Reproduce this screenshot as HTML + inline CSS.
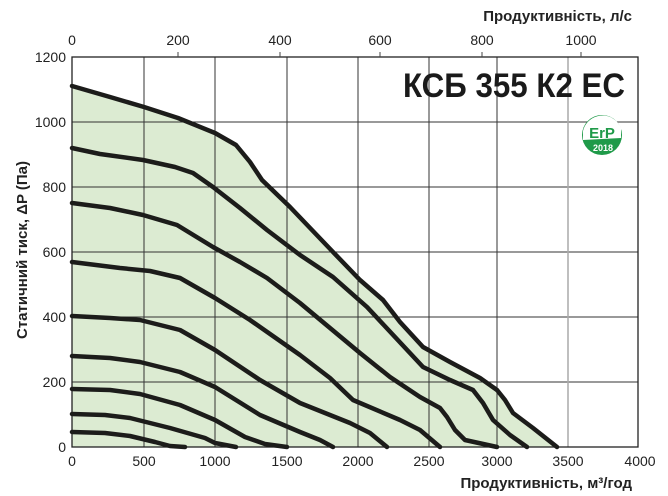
<!DOCTYPE html>
<html><head><meta charset="utf-8"><style>
html,body{margin:0;padding:0;background:#fff;}
svg{display:block;font-family:"Liberation Sans",sans-serif;}
</style></head><body>
<svg width="668" height="496" viewBox="0 0 668 496" xmlns="http://www.w3.org/2000/svg">
<rect width="668" height="496" fill="#fff"/>
<!-- fill -->
<polygon fill="#dcebd2" points="72,86 110,97 144,107 178,118 215,133 236,145 250,162 262,180 290,207 333,252 360,280 383,300 400,322 423,347 450,362 480,378 497,390 505,400 513,413 533,428 557,447 72,447"/>
<!-- grid -->
<g stroke="#333" stroke-width="1">
<line x1="72" y1="122" x2="638" y2="122"/><line x1="72" y1="187" x2="638" y2="187"/>
<line x1="72" y1="252" x2="638" y2="252"/><line x1="72" y1="317" x2="638" y2="317"/>
<line x1="72" y1="382" x2="638" y2="382"/>
<line x1="144" y1="57" x2="144" y2="447"/><line x1="215" y1="57" x2="215" y2="447"/>
<line x1="287" y1="57" x2="287" y2="447"/><line x1="358" y1="57" x2="358" y2="447"/>
<line x1="429" y1="57" x2="429" y2="447"/><line x1="497" y1="57" x2="497" y2="447"/>
</g>
<line x1="568" y1="57" x2="568" y2="447" stroke="#aaa" stroke-width="1.5"/>
<rect x="72" y="57" width="566" height="390" fill="none" stroke="#222" stroke-width="1.3"/>
<!-- top ticks -->
<g stroke="#444" stroke-width="1">
<line x1="178" y1="52" x2="178" y2="57"/><line x1="280" y1="52" x2="280" y2="57"/>
<line x1="380" y1="52" x2="380" y2="57"/><line x1="482" y1="52" x2="482" y2="57"/>
<line x1="581" y1="52" x2="581" y2="57"/>
</g>
<!-- curves -->
<g fill="none" stroke="#1c1c1a" stroke-width="4.5" stroke-linejoin="round" stroke-linecap="round">
<polyline points="72,86 110,97 144,107 178,118 215,133 236,145 250,162 262,180 290,207 333,252 360,280 383,300 400,322 423,347 450,362 480,378 497,390 505,400 513,413 533,428 557,447"/>
<polyline points="72,148 100,154 143,160 175,167 193,173 213,187 240,208 267,230 300,255 333,277 367,307 395,337 423,367 450,380 473,390 483,403 493,420 510,435 527,447"/>
<polyline points="72,203 110,208 143,215 177,225 213,247 240,262 267,278 300,303 330,328 360,353 390,377 420,397 440,408 447,417 455,430 465,440 497,447"/>
<polyline points="72,262 120,268 150,271 180,278 215,298 250,320 300,355 330,378 353,400 400,420 420,430 440,447"/>
<polyline points="72,316 110,318 140,320 180,330 215,350 260,380 300,403 350,423 370,433 387,447"/>
<polyline points="72,356 110,358 140,362 180,372 215,387 260,415 300,432 320,440 333,447"/>
<polyline points="72,389 110,390 140,394 180,405 215,420 245,437 265,444 287,447"/>
<polyline points="72,414 105,415 130,418 170,428 205,438 215,443 236,447"/>
<polyline points="72,432 105,433 130,436 155,442 170,446 185,447"/>
</g>
<!-- tick labels -->
<g font-size="14" fill="#222" text-anchor="end">
<text x="66" y="62">1200</text><text x="66" y="127">1000</text><text x="66" y="192">800</text>
<text x="66" y="257">600</text><text x="66" y="322">400</text><text x="66" y="387">200</text>
<text x="66" y="452">0</text>
</g>
<g font-size="14" fill="#222" text-anchor="middle">
<text x="72" y="466">0</text><text x="144" y="466">500</text><text x="215" y="466">1000</text>
<text x="287" y="466">1500</text><text x="358" y="466">2000</text><text x="429" y="466">2500</text>
<text x="497" y="466">3000</text><text x="568" y="466">3500</text><text x="640" y="466">4000</text>
<text x="72" y="45">0</text><text x="178" y="45">200</text><text x="280" y="45">400</text>
<text x="380" y="45">600</text><text x="482" y="45">800</text><text x="581" y="45">1000</text>
</g>
<text x="632" y="488" font-size="15" font-weight="bold" fill="#222" text-anchor="end">Продуктивність, м³/год</text>
<text x="632" y="21" font-size="15" font-weight="bold" fill="#222" text-anchor="end">Продуктивність, л/с</text>
<text transform="translate(27,250) rotate(-90)" font-size="15" font-weight="bold" fill="#222" text-anchor="middle">Статичний тиск, ΔP (Па)</text>
<text x="625" y="97" font-size="34" font-weight="bold" fill="#1a1a1a" text-anchor="end" textLength="222" lengthAdjust="spacingAndGlyphs">КСБ 355 К2 ЕС</text>
<!-- ErP badge -->
<circle cx="602" cy="135" r="20" fill="#1f9a49"/>
<path d="M583,131 A20,20 0 0 1 621,128 L621,138 L583,140 Z" fill="#fff"/>
<text x="602" y="138" font-size="15" font-weight="bold" fill="#1f9a49" text-anchor="middle">ErP</text>
<text x="603" y="151" font-size="9" font-weight="bold" fill="#fff" text-anchor="middle">2018</text>
</svg>
</body></html>
